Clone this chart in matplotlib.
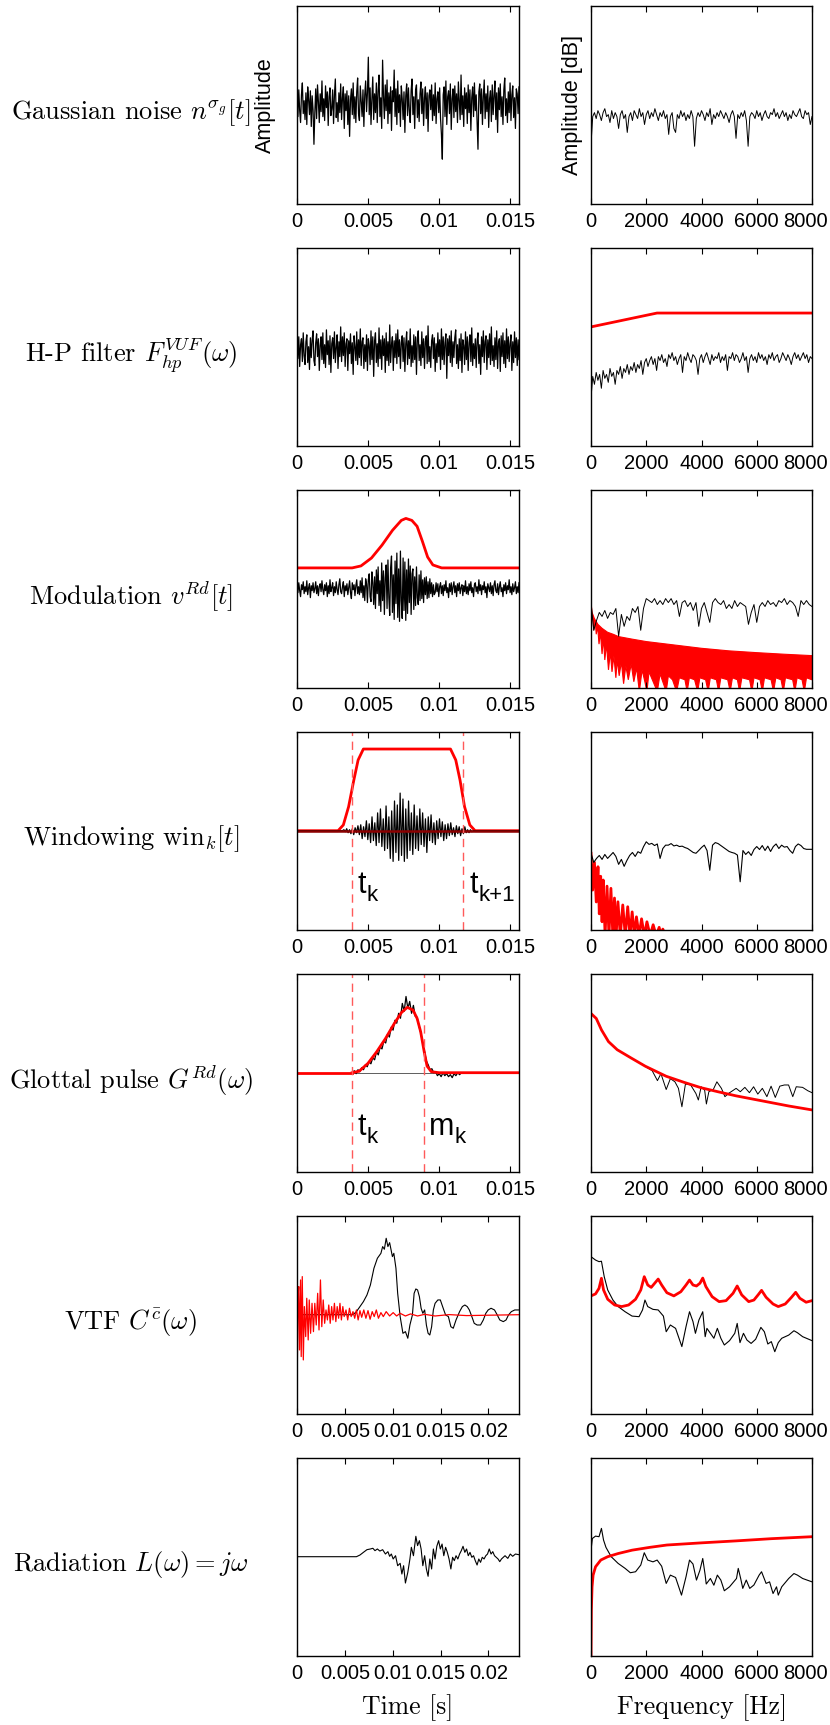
import numpy as np
import matplotlib.pyplot as plt
from matplotlib.transforms import ScaledTranslation

plt.rcParams['font.family'] = ['Liberation Sans', 'DejaVu Sans']
plt.rcParams['mathtext.fontset'] = 'cm'

# ---------------- data (time panels: amplitude in arbitrary units, freq panels: dB-ish 0..100) ----
row_labels = [r"Gaussian noise $n^{\sigma_g}[t]$", r"H-P filter $F_{hp}^{VUF}(\omega)$",
              r"Modulation $v^{Rd}[t]$", r"Windowing $\mathrm{win}_k[t]$",
              r"Glottal pulse $G^{Rd}(\omega)$", r"VTF $C^{\bar{c}}(\omega)$",
              r"Radiation $L(\omega) = j\omega$"]

time_ticks_short = [0, 0.005, 0.01, 0.015]
time_labels_short = ["0", "0.005", "0.01", "0.015"]
time_ticks_long = [0, 0.005, 0.01, 0.015, 0.02]
time_labels_long = ["0", "0.005", "0.01", "0.015", "0.02"]
freq_ticks = [0, 2000, 4000, 6000, 8000]
freq_labels = ["0", "2000", "4000", "6000", "8000"]

# row 1: gaussian noise
noise_gauss = [8, -12, 15, -6, -18, 10, 22, -9, 4, -15,
               12, -20, 18, 5, -10, 14, -22, 9, -5, -40,
               -8, 16, -14, 20, 3, -18, 11, -7, 24, -12,
               6, -16, 19, -3, 13, -21, 8, 17, -11, -4,
               15, -19, 10, 26, -13, 2, -17, 12, -8, 21,
               -15, 7, 18, -24, 11, -6, 14, -20, 9, -32,
               5, 16, -10, 22, -14, 8, -18, 13, 27, -9,
               -16, 19, 4, -12, 15, -22, 10, 24, -7, 12,
               48, -10, 17, -20, 6, 28, -15, 11, -8, 22,
               -18, 14, 30, -12, 7, -24, 45, 9, -14, 20,
               -6, 25, -19, 12, -9, 18, -26, 14, 3, 35,
               -12, 16, -20, 24, -8, 10, -22, 19, 6, -15,
               13, -28, 9, 21, -11, 17, -6, -18, 14, 26,
               -10, 8, -24, 15, 20, -13, 5, -17, 11, 23,
               -9, 16, -21, 7, 18, -14, 12, -27, 9, 15,
               -5, 20, -16, 10, -11, 22, -19, 6, 13, -8,
               17, -14, -30, -55, 10, 18, -12, 24, -20, 8,
               14, -9, 21, -25, 6, 16, -13, 19, -7, 11,
               -18, 23, 5, -15, 30, -10, 9, -22, 17, -4,
               12, -19, 20, -8, 15, -26, 7, 18, -12, 22,
               -6, 10, -16, -45, 13, 21, -9, 16, -20, 8,
               25, -14, 11, -7, 19, -23, 6, 14, -17, 20,
               -10, 9, 24, -15, 12, -28, 17, -5, 21, -12,
               8, -20, 15, 27, -11, 6, -18, 13, -8, 22,
               -16, 10, 19, -13, 7, -24, 16, 11, -9, 18]
spec_gauss = [30, 44, 46, 43, 47, 45, 42, 46, 48, 44, 45, 41, 47, 43, 46, 44, 38, 45, 47, 43,
              45, 36, 44, 46, 42, 47, 45, 43, 48, 44, 46, 40, 45, 47, 43, 46, 44, 48, 45, 42,
              46, 44, 47, 43, 45, 35, 44, 46, 38, 36, 45, 43, 47, 44, 46, 42, 45, 43, 47, 44,
              29, 43, 46, 44, 47, 45, 42, 46, 44, 48, 40, 45, 43, 46, 44, 47, 45, 43, 46, 44,
              41, 45, 47, 44, 33, 45, 43, 46, 44, 47, 42, 29, 44, 46, 45, 43, 47, 44, 46, 42,
              45, 47, 44, 43, 46, 45, 48, 44, 46, 43, 45, 47, 44, 46, 42, 45, 43, 47, 45, 44,
              46, 48, 44, 43, 47, 45, 46, 40, 44]

# row 2: high-pass filtered noise
noise_hp = [10, -8, 14, -16, 6, 12, -11, 18, -5, -14,
            9, 16, -12, 4, -19, 13, -7, 11, 20, -10,
            -15, 8, 17, -6, 12, -20, 5, 14, -9, 18,
            -13, 6, -17, 21, -4, 10, -14, 15, -22, 7,
            13, -8, 19, -12, 3, 16, -18, 9, -6, 24,
            -11, 14, -5, 18, -16, 7, 12, -20, 10, -3,
            17, -13, 8, -24, 15, 4, -10, 19, -14, 11,
            -7, 22, -15, 9, 13, -18, 6, -11, 16, -20,
            12, 5, -14, 20, -9, 14, -26, 10, 18, -12,
            7, -16, 23, -8, 11, -19, 15, -5, 12, -22,
            18, -10, 9, -15, 26, -12, 6, 14, -20, 10,
            -7, 17, -13, 21, -6, 11, -18, 8, 15, -11,
            13, -21, 7, 19, -14, 10, -8, 22, -16, 5,
            -12, 16, -9, 14, -24, 12, 20, -10, 6, -15,
            19, -7, 12, -18, 9, 15, -13, 25, -11, 4,
            -17, 10, 16, -8, 13, -21, 7, -12, 18, -6,
            11, -19, 22, -9, 14, -14, 8, 17, -28, 12,
            -5, 15, -12, 20, -16, 9, -7, 13, 21, -13,
            6, -18, 12, -10, 17, -22, 11, 5, -14, 19,
            -9, 14, -20, 8, 16, -11, 23, -15, 7, -8,
            12, -17, 10, 18, -13, 6, -24, 14, -6, 20,
            -12, 9, 15, -19, 11, -7, 17, -14, 24, -10,
            5, -16, 13, -9, 20, -18, 8, 12, -21, 15,
            -6, 18, -13, 10, -17, 22, -8, 14, -11, 7,
            16, -20, 9, -12, 19, -7, 13, -15, 11, -9]
spec_hp = [24, 35, 31, 37, 33, 36, 29, 38, 34, 36, 32, 39, 35, 37, 31, 38, 36, 40, 34, 39,
           37, 41, 36, 40, 38, 42, 37, 41, 39, 43, 36, 42, 44, 40, 43, 45, 41, 44, 38, 45,
           43, 46, 42, 44, 40, 46, 44, 47, 43, 45, 41, 44, 46, 37, 45, 43, 47, 44, 42, 46,
           45, 43, 36, 44, 46, 42, 45, 47, 44, 41, 46, 43, 45, 44, 47, 42, 45, 43, 46, 38,
           45, 44, 47, 43, 46, 45, 42, 44, 47, 43, 45, 37, 44, 46, 43, 45, 42, 47, 44, 46,
           43, 45, 41, 46, 44, 47, 43, 45, 46, 42, 44, 47, 45, 43, 46, 44, 41, 45, 47, 44,
           46, 43, 45, 47, 44, 46, 42, 45, 44]
hp_filter_f = [0, 2390, 8000]
hp_filter_db = [60, 67, 67]

# row 3: modulation
mod_t = [0, 0.00388, 0.0045, 0.00524, 0.00598, 0.00672, 0.00734, 0.00766, 0.00808, 0.00845,
         0.00882, 0.00919, 0.00956, 0.01018, 0.01562]
mod_env = [21, 21, 23, 31, 44, 59, 69, 71, 69, 63, 48, 32, 24, 21, 21]
mod_noise = [3, -4, 6, -2, -8, 4, -1, 7, -5, 2, -3, 8, -6, 1, 5, -9, 3, -2, 6, -4,
             0, 7, -5, 3, -7, 2, 5, -3, 8, -1, -6, 4, -2, 6, -8, 3, -5, 9, -3, 1,
             6, -7, 2, -4, 7, -1, -6, 4, 10, -3, -5, 2, 7, -8, 3, -2, 5, -6, 1, 8,
             -4, -10, 6, -1, 4, -7, 3, 9, -5, 2, -6,
             8, -4, 11, -9, 3, -12, 10, 5, -14, 9,
             15, -8, -13, 17, 6, -16, 12, -20, 19, -5,
             22, -17, 8, -23, 26, -12, 18, -26, 11, 24,
             -20, 29, -9, -27, 21, 33, -24, 14, -31, 28,
             -15, 36, -29, 20, -33, 38, -12, -30, 31, -22,
             27, -32, 19, -25, 30, -14, 23, -26, 15, 20,
             -21, 12, -17, 22, -9, -16, 14, -12, 18, -10,
             9, -14, 11, -6, 12, -10, 7, -9, 10, -5,
             6, -8, 4, -6,
             -4, 6, -3, 5, -8, 2, 6, -5, 3, -7, 4, -2, 8, -4, 1, -9, 5, -3, 6, -6,
             2, 7, -4, 3, -8, 5, -2, 6, -5, 1, 4, -7, 3, -3, 8, -5, 2, -6, 5, -2,
             7, -4, 1, -8, 4, 6, -3, 2, -5, 9, -2, 4, -6, 3, -1, 7, -4, 2, -9, 5,
             1, -3, 6, -5, 3, -7, 4, 8, -2, -4, 5, -6, 2, 7, -3, 1, -8, 4, -2, 6,
             -5, 3, -1, 9, -4, 2, -6, 5, -3, 1, 7, -5, 2, -4, 6]
mod_spec = [43, 29, 34, 38, 36, 39, 35, 38, 37, 40, 26, 37, 31, 36, 34, 40, 38, 41, 29, 40,
            45, 44, 43, 45, 42, 44, 42, 45, 43, 45, 42, 44, 36, 43, 44, 41, 43, 39, 43, 31,
            40, 43, 38, 33, 43, 45, 43, 42, 44, 40, 42, 40, 44, 41, 43, 42, 41, 32, 38, 42,
            33, 41, 43, 41, 44, 42, 43, 41, 44, 43, 45, 42, 44, 43, 41, 36, 44, 42, 44, 42, 41]
mod_env_spec = [(0, 43), (40, 38), (120, 35), (250, 32), (400, 30), (600, 28), (800, 27),
                (1000, 25.8), (1500, 24.5), (2000, 23.3), (3000, 21.6), (4000, 19.9),
                (5000, 18.6), (6000, 17.7), (7000, 16.9), (8000, 16.2)]
mod_floor_spec = [(0, 33), (60, 36), (100, 29), (150, 34), (190, 27), (240, 31), (290, 22),
                  (340, 28), (400, 17), (450, 25), (500, 14), (560, 22), (633, 9), (700, 18),
                  (760, 8), (830, 16), (900, 5), (949, 14), (1020, 6), (1100, 13), (1180, 2),
                  (1260, 11), (1350, 4), (1456, 12), (1550, 3), (1650, 10), (1750, -2),
                  (1850, 9), (1950, 3), (2025, -2), (2100, 8), (2250, 3), (2400, -2), (2500, 7),
                  (2722, -2), (2800, 6), (2950, 4), (3100, -2), (3200, 5), (3400, 4), (3481, -2),
                  (3560, 5), (3750, 4), (3861, -2), (3940, 5), (4150, 4), (4240, -2), (4320, 5),
                  (4540, 4), (4620, -2), (4700, 5), (4950, 4), (5038, -2), (5120, 5), (5300, 4),
                  (5380, -2), (5460, 5), (5740, 4), (5823, -2), (5900, 5), (6120, 4), (6203, -2),
                  (6280, 5), (6520, 4), (6608, -2), (6690, 5), (6880, 4), (6962, -2), (7040, 5),
                  (7300, 4), (7380, -2), (7460, 5), (7640, 4), (7722, -2), (7800, 5), (8000, 4)]

# row 4: windowing
win_t = [0, 0.00289, 0.00326, 0.00363, 0.0040, 0.0043, 0.00467, 0.0108, 0.01117, 0.01147,
         0.01179, 0.01216, 0.01253, 0.01562]
win_v = [0, 0, 5.8, 24.2, 51.2, 71.4, 82.5, 82.5, 71.4, 51.2, 24.2, 5.8, 0, 0]
win_bounds = [0.00388, 0.01167]
win_noise = [0, 1, -1, 2, -2, 1, -3, 2, -4, 3, -2, 5, -4,
             6, -8, 4, -6, 10, -9, 7, -12, 14, -10, 8, -15, 18, -12, 22, -16, 12, -20,
             25, -18, 14, -28, 20, -31, 30, -22, 26, -30, 38, -25, 32, -31, 22, -28, 30, -20, 18,
             -24, 26, -18,
             15, -20, 22, -14, 18, -16, 12, -22, 14, -10, 16, -12, 8, -14, 10, -8, 12, -6, 9, -10,
             6, -8, 7,
             -5, 8, -4, 3, -6, 5, -3, 4, -5, 2, -3, 4, -2, 1, -2, 1, -1, 0, 0]
win_spec = [38.6, 34, 36, 37.5, 35.5, 38, 36, 37.5, 39, 37, 33, 35.5, 32, 35, 37.5, 39, 37, 39.4,
            38.6, 41.9, 44.4, 43.1, 43.6, 42.5, 43.3, 36, 41, 42.7, 42.7, 43.5, 42.3, 42.7, 42,
            42.2, 41.5, 41, 40, 39, 38.6, 40, 41.5, 42.7, 40, 30, 42.7, 44, 43.5, 42.5, 41.5,
            40.5, 39.5, 39, 38.6, 37.7, 24.2, 40, 38, 39.4, 37.5, 40.5, 42, 40.5, 42.5, 40, 42.2,
            39.5, 42, 43.3, 41, 42.7, 41.7, 42, 40, 38.6, 42, 43.3, 42.5, 41, 40.6, 40.6, 40.6]
win_comb = [(0, 38.6), (60, 20), (125, 34), (190, 14), (253, 31.8), (300, 8), (350, 27), (400, 4),
            (443, 25.1), (510, -3), (580, 22), (650, -3), (721, 20.9), (790, -3), (850, 16),
            (910, -3), (975, 14.1), (1060, -3), (1150, 12.5), (1240, -3), (1329, 11.6),
            (1410, -3), (1490, 9), (1570, -3), (1645, 6.5), (1740, -3), (1830, 5.5), (1930, -3),
            (2025, 4), (2140, -3), (2250, 2.5), (2360, -3), (2468, 1.2), (2540, -3), (2600, 0.3),
            (2700, -3)]

# row 5: glottal pulse
glot_t = [0, 0.00388, 0.00437, 0.00499, 0.00561, 0.00623, 0.00685, 0.00734, 0.00776, 0.00816,
          0.00845, 0.0087, 0.00895, 0.00915, 0.00945, 0.01, 0.01562]
glot_v = [0, 0, 1.5, 9.4, 21.2, 34.6, 49.8, 60.6, 66, 63.3, 54.9, 41.4, 21.2, 6.7, 1, 0, 0]
glot_noisy = [0, 2, -1, 3, 1, 5, 3, 8, 6, 11, 9, 15, 13, 21, 18, 26, 24, 32, 30, 39, 36, 46, 43,
              53, 50, 60, 55, 70, 62, 77, 65, 72, 60, 68, 57, 56, 47, 40, 30, 22, 12, 8, 3, 4, 0,
              1, -3, -1, -4, 0, -3, -1, -4, -2, -5, -1, -3, 0, -2, 0, 0]
glot_marks = [0.00388, 0.00895]
glot_spec_model = [(0, 79.9), (190, 77.4), (380, 71.6), (633, 65.7), (949, 61.6), (1456, 57.4),
                   (1962, 53.3), (2722, 48.2), (3354, 45.2), (3987, 42.4), (4620, 40.3),
                   (5253, 38.3), (5886, 36.6), (6519, 34.9), (7152, 33.2), (8000, 31.2)]
glot_spec = [(1835, 54.5), (2025, 52.6), (2215, 51), (2405, 46), (2532, 49.5), (2722, 41.5),
             (2873, 47), (3038, 45.4), (3165, 42.1), (3291, 32.8), (3418, 44.3), (3608, 43.8),
             (3797, 39.5), (3886, 36.2), (3987, 42.9), (4114, 41.2), (4177, 34.2), (4266, 40.4),
             (4430, 41.6), (4557, 45.4), (4721, 42.1), (4848, 37.9), (4975, 39.5), (5127, 40.9),
             (5253, 42.1), (5405, 40.4), (5570, 42.6), (5734, 39.9), (5886, 42.9), (6038, 39.2),
             (6203, 42.1), (6367, 37.9), (6519, 43.2), (6671, 37.5), (6835, 43.2), (7000, 43.8),
             (7152, 43.8), (7304, 37.9), (7430, 42.9), (7658, 42.6), (7848, 40.9), (8000, 39.9)]

# row 6: vocal tract filter
vtf_t = [0, 0.00585, 0.00621, 0.00658, 0.00694, 0.00731, 0.00767, 0.00804, 0.0084, 0.00877,
         0.00895, 0.00913, 0.00932, 0.0095, 0.00968, 0.00997, 0.01012, 0.01034, 0.01052, 0.01078,
         0.01107, 0.01133, 0.01158, 0.0118, 0.01206, 0.01224, 0.01242, 0.0126, 0.01279, 0.01297,
         0.01315, 0.01334, 0.01352, 0.0137, 0.01388, 0.01407, 0.01425, 0.01443, 0.01472, 0.01498,
         0.01516, 0.01534, 0.01553, 0.01582, 0.01608, 0.01633, 0.01662, 0.01699, 0.01728, 0.01754,
         0.01779, 0.01801, 0.01827, 0.01852, 0.01882, 0.01918, 0.01947, 0.01973, 0.01998, 0.02028,
         0.02064, 0.02093, 0.02119, 0.02156, 0.02185, 0.0221, 0.0224, 0.02276, 0.0232]
vtf_out = [0, 0, 3.1, 8.2, 13.2, 19.9, 30, 46.9, 57, 62, 68.8, 66.1, 77.2, 68.8, 72.8, 58.7, 62,
           46.9, 21.6, -1.9, -18.8, -17.1, -23.8, -10.4, -0.3, 21.6, 26, 25, 18.3, 6.5, 1.4, 4.8,
           -10.4, -18.8, -20.5, -12.1, 4.8, 11.5, 14.9, 14.9, 9.8, 4.8, -0.3, -1.9, -12.1, -13.7,
           -5.3, 3.1, 8.2, 9.8, 8.2, 4.8, -1.9, -8.7, -10.4, -10.4, -5.3, 1.4, 4.8, 6.5, 4.8, -0.3,
           -5.3, -7, -5.3, -0.3, 3.1, 4.8, 4.8]
vtf_ir_t = [0, 0.000018, 0.0000365, 0.00011, 0.00018, 0.00026, 0.00037, 0.00044, 0.00055,
            0.00066, 0.00077, 0.00091, 0.00102, 0.00117, 0.00128, 0.00142, 0.00157, 0.00172,
            0.00186, 0.00201, 0.00216, 0.0023, 0.00245, 0.00259, 0.00274, 0.00289, 0.00303,
            0.00318, 0.00332, 0.00347, 0.00362, 0.00376, 0.00391, 0.00406, 0.0042, 0.00435,
            0.00449, 0.00464, 0.00479, 0.00493, 0.00512, 0.0053, 0.00548, 0.00566, 0.00585,
            0.00603, 0.00621, 0.00639, 0.00658, 0.00676, 0.00698, 0.0072, 0.00742, 0.00764,
            0.00786, 0.00807, 0.00829, 0.00851, 0.00877, 0.00902, 0.00932, 0.00968, 0.01005,
            0.01041, 0.01078, 0.01133, 0.01187, 0.0126, 0.01334, 0.01443, 0.01589, 0.01772, 0.0232]
vtf_ir = [0, 72.1, -49.1, 18.3, 28.4, -35.6, 35.1, -42.3, 38.5, -45.7, 8.2, -22.1, 16.6, -25.5,
          14.9, -18.8, 11.5, -17.1, 11.5, -10.4, 21.6, -15.4, 35.1, -12.1, 14.9, -8.7, 4.8, -5.3,
          9.8, -8.7, 8.2, -5.3, 11.5, -7, 8.2, -3.6, 11.5, -5.3, 8.2, -1.9, 4.8, -5.3, 6.5, -1.9,
          3.1, -3.6, 4.8, -5.3, 4.1, -2.6, 4.8, -3.6, 4.1, -4.6, 3.1, -1.9, 4.8, -3.6, 2.1, -1.9,
          3.1, -1.3, 2.1, -1.3, 1.4, -1.3, 0.8, -1.3, 0.4, -1.3, 0.1, -0.9, 0]
vtf_model = [(0, 59.5), (164, 60.5), (290, 63.3), (378, 68.4), (454, 62.5), (605, 57.8),
             (857, 54.9), (1109, 54.1), (1361, 54.9), (1613, 57.8), (1802, 62.5), (1928, 69.2),
             (2054, 65), (2180, 63.8), (2306, 65.9), (2432, 68), (2558, 65), (2747, 61.1),
             (2999, 59.5), (3251, 61.6), (3440, 65), (3566, 67.5), (3692, 65), (3818, 64.5),
             (3944, 65.9), (4045, 68.5), (4158, 64.2), (4385, 59.1), (4637, 56.6), (4889, 57.1),
             (5141, 60.8), (5292, 64.5), (5456, 60), (5708, 56.6), (5897, 57.4), (6048, 60),
             (6174, 62.3), (6338, 58.8), (6590, 55.4), (6779, 54.1), (7031, 55.4), (7258, 58.8),
             (7409, 61.3), (7560, 58.3), (7787, 56.3), (8000, 57.1)]
vtf_spec = [(0, 79.3), (164, 77.6), (290, 76.8), (378, 77), (479, 69.2), (605, 62.5), (794, 57.4),
            (983, 54.1), (1235, 51.5), (1487, 49.3), (1739, 49), (1865, 52.4), (1953, 57.4),
            (2054, 54.1), (2243, 52.7), (2432, 52.4), (2621, 49.3), (2722, 41.4), (2873, 44.8),
            (3062, 43.1), (3289, 33.9), (3440, 44), (3566, 51.5), (3692, 46.5), (3780, 40.6),
            (3906, 47.3), (4045, 51.5), (4133, 38.9), (4196, 43.1), (4322, 40.6), (4448, 38.1),
            (4574, 43.1), (4700, 38.1), (4826, 34.7), (5015, 36.9), (5204, 40.6), (5292, 45.6),
            (5393, 35.9), (5519, 40.6), (5645, 37.2), (5796, 35.5), (5960, 37.6), (6149, 43.6),
            (6275, 41.4), (6401, 35.2), (6527, 36.4), (6653, 31.3), (6779, 35.9), (6905, 38.1),
            (7157, 39.7), (7346, 41.9), (7472, 40.9), (7661, 38.9), (8000, 36.9)]

# row 7: radiation
rad_t = [0, 0.00621, 0.00658, 0.00694, 0.00731, 0.00767, 0.00793, 0.00815, 0.0084, 0.00866,
         0.00895, 0.00924, 0.0095, 0.00968, 0.00986, 0.01005, 0.0103, 0.01052, 0.01078, 0.01096,
         0.01114, 0.01133, 0.01158, 0.0118, 0.01195, 0.01217, 0.01242, 0.0126, 0.01279, 0.01297,
         0.01315, 0.01334, 0.01352, 0.0137, 0.01388, 0.01407, 0.01425, 0.01443, 0.01461, 0.0148,
         0.01498, 0.01516, 0.01534, 0.01553, 0.01571, 0.01589, 0.01608, 0.01626, 0.01644, 0.01662,
         0.01681, 0.01699, 0.01717, 0.01735, 0.01754, 0.01772, 0.0179, 0.01808, 0.01827, 0.01845,
         0.01863, 0.01882, 0.019, 0.01918, 0.01936, 0.01955, 0.01973, 0.01991, 0.02009, 0.02028,
         0.02046, 0.02064, 0.02082, 0.02101, 0.02119, 0.02137, 0.02174, 0.02203, 0.02229, 0.02254,
         0.02283, 0.0232]
rad_out = [0, 0, 1.7, 4.4, 7.1, 7.8, 8.5, 6.1, 7.8, 5.7, 7.1, 2.7, 5.1, 0.4, 2.7, -2.3, 1, -9.1,
           -6.7, -17.5, -9.1, -26.6, -15.8, -2.3, 9.5, 1, 20.6, 11.2, 16.2, 7.8, -9.1, 1, -12.4,
           -19.8, -2.3, -12.4, 7.8, -2.3, 10.5, 16.2, 7.8, 12.8, 1, 9.5, 4.4, -2.3, -12.4, -0.6,
           -4, 1, -2.3, 2.7, 6.1, 10.5, 4.4, 7.8, 1, 4.4, -0.6, 1, -4, -8.4, -2.3, -5.7, -0.6,
           -2.3, 1, 2.7, 7.8, 2.7, 5.1, 1, -0.6, -2.3, -5, -2.3, 1, -1.7, 2.7, 0.4, 2.7, 2]
rad_model = [(0, 0), (13, 23), (38, 34.8), (76, 40.7), (164, 44.9), (353, 48.3), (605, 50),
             (983, 51.6), (1487, 53.3), (2117, 54.7), (2747, 55.9), (4007, 57), (5267, 58),
             (6527, 59.1), (8000, 60.1)]
rad_spec = [(0, 53.3), (50, 59.2), (164, 60.4), (290, 60.1), (378, 64.3), (454, 58.4), (542, 54.7),
            (731, 50), (983, 46.6), (1235, 44.1), (1424, 41.9), (1613, 42.4), (1802, 45.8),
            (1928, 52), (2054, 48.3), (2243, 47.4), (2394, 48.3), (2558, 45.2), (2722, 36.5),
            (2873, 40.7), (3062, 39.5), (3276, 30.6), (3440, 39.9), (3566, 48.3), (3692, 46.3),
            (3818, 38.2), (3944, 43.2), (4045, 49.1), (4133, 40.7), (4171, 36.2), (4322, 39),
            (4448, 35.6), (4574, 40.7), (4700, 38.2), (4826, 32.8), (5015, 34.8), (5267, 39),
            (5330, 44.1), (5418, 39), (5494, 34), (5620, 38.2), (5746, 34), (5897, 35.7),
            (6086, 40.7), (6174, 42.4), (6338, 36.5), (6464, 37.3), (6590, 31.4), (6716, 34.8),
            (6779, 30.6), (6905, 34.8), (7157, 39), (7346, 41.5), (7472, 40.7), (7661, 39),
            (8000, 37.3)]

# ---------------- layout ----------------
W_PX, H_PX = 830, 1725
fig = plt.figure(figsize=(W_PX / 100, H_PX / 100), dpi=100)

ROW_TOP0, ROW_PITCH, ROW_H = 5.7, 242.0, 198.0
LX, LW = 297, 222
RX, RW = 591, 221
T_SHORT, T_LONG = 0.01562, 0.0232
RED = '#ff0000'
DASH_RED = '#ff5a5a'


def row_axes(i):
    top = ROW_TOP0 + i * ROW_PITCH
    b = 1 - (top + ROW_H) / H_PX
    axl = fig.add_axes([LX / W_PX, b, LW / W_PX, ROW_H / H_PX])
    axr = fig.add_axes([RX / W_PX, b, RW / W_PX, ROW_H / H_PX])
    return axl, axr


def style(ax, xmax, ticks, labels, ylim):
    ax.set_xlim(0, xmax)
    ax.set_ylim(*ylim)
    ax.set_xticks(ticks)
    ax.set_xticklabels(labels)
    ax.set_yticks([])
    ax.tick_params(axis='x', direction='in', top=True, length=4, width=0.8,
                   labelsize=14.5, pad=6)
    for s in ax.spines.values():
        s.set_linewidth(1.0)


def pairs(p):
    a = np.array(p, dtype=float)
    return a[:, 0], a[:, 1]


def short_time(values):
    return np.linspace(0, T_SHORT, len(values))


def spec_freq(values):
    return np.linspace(0, 8000, len(values))


def sub_label(ax, x, main, sub, dx):
    # big sans letter with a smaller subscript, like the MATLAB text objects
    tr = ax.get_xaxis_transform()
    ax.text(x, 0.185, main, transform=tr, fontsize=22, va='baseline')
    ax.annotate(sub, xy=(x, 0.185), xycoords=tr, xytext=(dx, -5.5),
                textcoords='offset points', fontsize=16, va='baseline')


axes = [row_axes(i) for i in range(7)]

# row 1
axl, axr = axes[0]
axl.plot(short_time(noise_gauss), noise_gauss, color='k', lw=0.9)
axr.plot(spec_freq(spec_gauss), spec_gauss, color='k', lw=0.7)
axl.set_ylabel("Amplitude", fontsize=15.5, labelpad=15)
axr.set_ylabel("Amplitude [dB]", fontsize=15.5, labelpad=6)

# row 2
axl, axr = axes[1]
axl.plot(short_time(noise_hp), noise_hp, color='k', lw=0.9)
axr.plot(spec_freq(spec_hp), spec_hp, color='k', lw=0.7)
axr.plot(hp_filter_f, hp_filter_db, color=RED, lw=2)

# row 3
axl, axr = axes[2]
axl.plot(short_time(mod_noise), mod_noise, color='k', lw=0.9)
axl.plot(mod_t, mod_env, color=RED, lw=2)
f_up, v_up = pairs(mod_env_spec)
f_lo, v_lo = pairs(mod_floor_spec)
axr.fill(np.r_[f_up, f_lo[::-1]], np.r_[v_up, v_lo[::-1]], color=RED, lw=0.8)
axr.plot(spec_freq(mod_spec), mod_spec, color='k', lw=0.7)

# row 4
axl, axr = axes[3]
axl.plot(win_t, win_v, color=RED, lw=2)
wt = np.r_[0, np.linspace(0.0032, 0.0125, len(win_noise)), T_SHORT]
axl.plot(wt, np.r_[0, win_noise, 0], color='k', lw=0.9)
axl.plot([0, T_SHORT], [0, 0], color='#8b0000', lw=1.8)
for xb in win_bounds:
    axl.axvline(xb, color=DASH_RED, lw=1, dashes=(6, 4))
fc, vc = pairs(win_comb)
axr.plot(fc, vc, color=RED, lw=2)
axr.plot(spec_freq(win_spec), win_spec, color='k', lw=0.8)
sub_label(axl, 0.00425, "t", "k", 6.5)
sub_label(axl, 0.01212, "t", "k+1", 6.5)

# row 5
axl, axr = axes[4]
axl.plot([0, T_SHORT], [0, 0], color='#444444', lw=0.6)
gt = np.linspace(0.0039, 0.0117, len(glot_noisy))
axl.plot(gt, glot_noisy, color='k', lw=0.9)
axl.plot([0, glot_marks[0]], [0, 0], color=RED, lw=2)
axl.plot(glot_t[1:], glot_v[1:], color=RED, lw=2)
for xb in glot_marks:
    axl.axvline(xb, color=DASH_RED, lw=1, dashes=(6, 4))
fs, vs = pairs(glot_spec)
axr.plot(fs, vs, color='k', lw=0.7)
fm, vm = pairs(glot_spec_model)
axr.plot(fm, vm, color=RED, lw=2)
sub_label(axl, 0.00425, "t", "k", 6.5)
sub_label(axl, 0.0093, "m", "k", 18.5)

# row 6
axl, axr = axes[5]
axl.plot(vtf_t, vtf_out, color='k', lw=0.8)
axl.plot(vtf_ir_t, vtf_ir, color=RED, lw=0.9)
fs, vs = pairs(vtf_spec)
axr.plot(fs, vs, color='k', lw=0.8)
fm, vm = pairs(vtf_model)
axr.plot(fm, vm, color=RED, lw=2)

# row 7
axl, axr = axes[6]
axl.plot(rad_t, rad_out, color='k', lw=0.8)
fs, vs = pairs(rad_spec)
axr.plot(fs, vs, color='k', lw=0.8)
fm, vm = pairs(rad_model)
axr.plot(fm, vm, color=RED, lw=2)

shift_left = ScaledTranslation(-7 / 100, 0, fig.dpi_scale_trans)
for i, (axl, axr) in enumerate(axes):
    if i < 5:
        style(axl, T_SHORT, time_ticks_short, time_labels_short, (-100, 100))
    else:
        style(axl, T_LONG, time_ticks_long, time_labels_long, (-100, 100))
    style(axr, 8000, freq_ticks, freq_labels, (0, 100))
    last = axr.get_xticklabels()[-1]
    last.set_transform(last.get_transform() + shift_left)
    yc = ROW_TOP0 + i * ROW_PITCH + ROW_H / 2 + 8
    fig.text(131 / W_PX, 1 - yc / H_PX, row_labels[i], fontsize=19, family='cmr10',
             ha='center', va='center')

axes[1][0].set_ylim(-96, 104)

fig.text((LX + LW / 2) / W_PX, 1 - 1708 / H_PX, "Time [s]", fontsize=18.5, family='cmr10',
         ha='center', va='center')
fig.text((RX + RW / 2) / W_PX, 1 - 1708 / H_PX, "Frequency [Hz]", fontsize=18.5, family='cmr10',
         ha='center', va='center')

fig.savefig("out.png", dpi=100)
